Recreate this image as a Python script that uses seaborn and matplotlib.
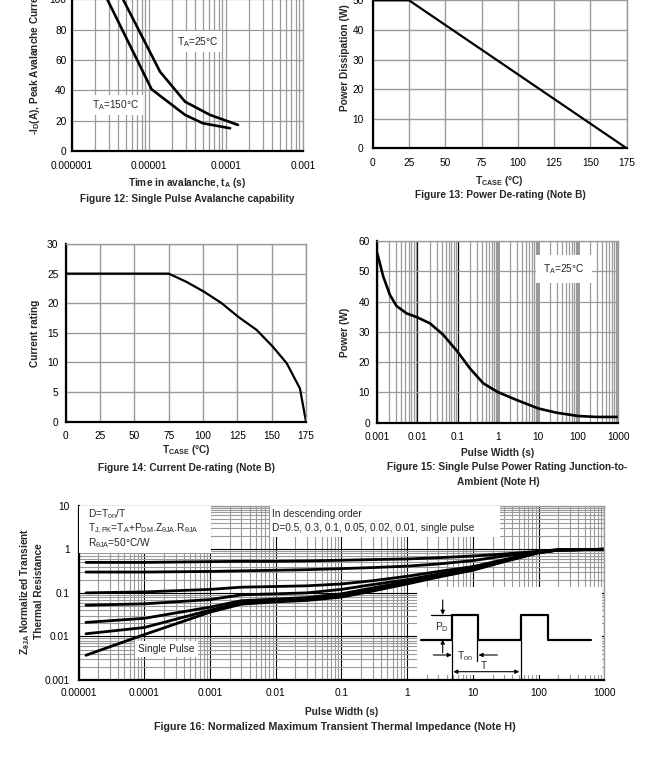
import numpy as np
import pandas as pd
import matplotlib
matplotlib.use("Agg")
import matplotlib.pyplot as plt
import seaborn as sns
from matplotlib.ticker import FuncFormatter, LogLocator, MultipleLocator
from matplotlib.patches import Rectangle

sns.set_theme(style="white")
plt.rcParams["font.family"] = ["Liberation Sans", "DejaVu Sans"]
plt.rcParams["mathtext.default"] = "regular"
plt.rcParams["font.size"] = 7.3

# ---- data ----
# Figure 12: single pulse avalanche capability
aval_t_25 = [3.0e-6, 4.6e-6, 1.39e-5, 2.94e-5, 6.2e-5, 1.43e-4]
aval_i_25 = [120, 100, 52.3, 32.5, 23.8, 17.2]
aval_t_150 = [1.85e-6, 2.87e-6, 1.08e-5, 2.94e-5, 5.0e-5, 1.13e-4]
aval_i_150 = [120, 100, 40.7, 23.8, 18.3, 15.0]

# Figure 13: power de-rating
pd_tcase = [0, 25, 175]
pd_power = [50, 50, 0]

# Figure 14: current de-rating
cr_tcase = [0, 75, 88, 100.7, 113.6, 125.7, 139, 150.7, 161, 170.6, 175]
cr_current = [25, 25, 23.6, 21.95, 20.0, 17.7, 15.5, 12.7, 9.85, 5.6, 0]

# Figure 15: single pulse power rating
pw_width = [0.001, 0.00141, 0.00206, 0.00303, 0.00537, 0.0099, 0.0205, 0.044,
            0.1, 0.203, 0.436, 0.97, 2.94, 10.2, 29, 101, 290, 1000]
pw_power = [55.9, 48.2, 42.2, 38.5, 36.1, 34.8, 32.8, 29.0,
            23.4, 17.9, 13.0, 10.2, 7.5, 4.7, 3.3, 2.2, 1.9, 1.9]

# Figure 16: normalized transient thermal impedance
zth_width = [1.3e-5, 1e-4, 1e-3, 3e-3, 1e-2, 3e-2, 0.1, 0.3, 1, 3, 10, 30, 100, 200, 1000]
zth_d050 = [0.5, 0.5, 0.52, 0.53, 0.53, 0.54, 0.56, 0.58, 0.6, 0.64, 0.7, 0.78, 0.9, 0.98, 1.0]
zth_d030 = [0.3, 0.3, 0.31, 0.32, 0.33, 0.34, 0.36, 0.38, 0.41, 0.46, 0.55, 0.7, 0.88, 0.97, 1.0]
zth_d010 = [0.1, 0.105, 0.12, 0.135, 0.14, 0.145, 0.16, 0.19, 0.24, 0.31, 0.4, 0.58, 0.86, 0.96, 1.0]
zth_d005 = [0.052, 0.056, 0.07, 0.09, 0.095, 0.1, 0.12, 0.155, 0.2, 0.27, 0.37, 0.55, 0.85, 0.96, 1.0]
zth_d002 = [0.021, 0.026, 0.047, 0.066, 0.072, 0.078, 0.095, 0.13, 0.18, 0.25, 0.35, 0.54, 0.84, 0.96, 1.0]
zth_d001 = [0.0115, 0.016, 0.04, 0.06, 0.066, 0.072, 0.088, 0.12, 0.17, 0.24, 0.34, 0.53, 0.84, 0.96, 1.0]
zth_single = [0.0037, 0.011, 0.036, 0.055, 0.062, 0.067, 0.08, 0.11, 0.16, 0.23, 0.33, 0.52, 0.83, 0.96, 1.0]
duty_labels = ["0.5", "0.3", "0.1", "0.05", "0.02", "0.01", "single pulse"]

# pulse sketch in the inset (schematic units)
pulse_u = [3.7, 34.7, 34.7, 61.3, 61.3, 103.7, 103.7, 130.7, 130.7, 173.7]
pulse_v = [40.5, 40.5, 65.3, 65.3, 40.5, 40.5, 65.3, 65.3, 40.5, 40.5]

W, H = 671, 770
GRID = "#9a9a9a"
fig = plt.figure(figsize=(W / 100, H / 100), dpi=100)


def add_axes(x0, x1, ytop, ybot):
    return fig.add_axes([x0 / W, 1 - ybot / H, (x1 - x0) / W, (ybot - ytop) / H])


def ftext(x, y, s, **kw):
    kw.setdefault("ha", "center")
    kw.setdefault("va", "center")
    fig.text(x / W, 1 - y / H, s, **kw)


def plain(v, pos):
    return f"{v:.8f}".rstrip("0").rstrip(".")


def style(ax, ypad=5):
    ax.set_facecolor("white")
    ax.set_axisbelow(True)
    for s in ["top", "right"]:
        ax.spines[s].set_color(GRID)
        ax.spines[s].set_linewidth(1.0)
    for s in ["left", "bottom"]:
        ax.spines[s].set_color("black")
        ax.spines[s].set_linewidth(1.6)
    ax.tick_params(which="both", length=0, labelsize=7.3, colors="black")
    ax.tick_params(axis="x", pad=7)
    ax.tick_params(axis="y", pad=ypad)
    ax.set_xlabel("")
    ax.set_ylabel("")


def log_x(ax):
    ax.set_xscale("log")
    ax.xaxis.set_major_locator(LogLocator(base=10, numticks=30))
    ax.xaxis.set_minor_locator(LogLocator(base=10, subs=np.arange(2, 10), numticks=300))
    ax.xaxis.set_major_formatter(FuncFormatter(plain))


bold = dict(fontweight="bold", fontsize=7.3)

# ---------------- Figure 12 ----------------
ax12 = add_axes(72, 303, -31, 151)
sns.lineplot(x=aval_t_25, y=aval_i_25, ax=ax12, color="black", lw=1.9, sort=False, estimator=None)
sns.lineplot(x=aval_t_150, y=aval_i_150, ax=ax12, color="black", lw=1.9, sort=False, estimator=None)
log_x(ax12)
ax12.set_xlim(1e-6, 1e-3)
ax12.set_ylim(0, 120)
ax12.yaxis.set_major_locator(MultipleLocator(20))
style(ax12, ypad=4)
ax12.grid(True, which="both", axis="x", color=GRID, lw=0.9)
ax12.grid(True, which="major", axis="y", color=GRID, lw=0.9)
ax12.text(2.31e-5, 72, "T$_A$=25°C", fontsize=7.3, va="center", zorder=4,
          bbox=dict(facecolor="white", edgecolor="none", pad=2.5))
ax12.text(1.82e-6, 30.4, "T$_A$=150°C", fontsize=7.3, va="center", zorder=4,
          bbox=dict(facecolor="white", edgecolor="none", pad=2.5))
ftext(35, 60, "-I$_D$(A), Peak Avalanche Current", rotation=90, **bold)
ftext(187, 183, "Time in avalanche, t$_A$ (s)", **bold)
ftext(187, 198.5, "Figure 12: Single Pulse Avalanche capability", **bold)

# ---------------- Figure 13 ----------------
ax13 = add_axes(372.7, 626.7, -29.3, 148.3)
sns.lineplot(x=pd_tcase, y=pd_power, ax=ax13, color="black", lw=1.6, sort=False, estimator=None)
ax13.set_xlim(0, 175)
ax13.set_ylim(0, 60)
ax13.xaxis.set_major_locator(MultipleLocator(25))
ax13.yaxis.set_major_locator(MultipleLocator(10))
style(ax13, ypad=6.5)
ax13.grid(True, which="major", color=GRID, lw=1.0)
ftext(345, 58, "Power Dissipation (W)", rotation=90, **bold)
ftext(499, 181, "T$_{CASE}$ (°C)", **bold)
ftext(500, 195, "Figure 13: Power De-rating (Note B)", **bold)

# ---------------- Figure 14 ----------------
ax14 = add_axes(65.7, 306, 244, 421.7)
sns.lineplot(x=cr_tcase, y=cr_current, ax=ax14, color="black", lw=1.6, sort=False, estimator=None)
ax14.set_xlim(0, 175)
ax14.set_ylim(0, 30)
ax14.xaxis.set_major_locator(MultipleLocator(25))
ax14.yaxis.set_major_locator(MultipleLocator(5))
style(ax14, ypad=5.3)
ax14.grid(True, which="major", color=GRID, lw=1.0)
ftext(35, 333, "Current rating", rotation=90, **bold)
ftext(186, 450, "T$_{CASE}$ (°C)", **bold)
ftext(186, 468.3, "Figure 14: Current De-rating (Note B)", **bold)

# ---------------- Figure 15 ----------------
ax15 = add_axes(377.3, 618.3, 241, 422.7)
sns.lineplot(x=pw_width, y=pw_power, ax=ax15, color="black", lw=1.9, sort=False, estimator=None)
log_x(ax15)
ax15.set_xlim(1e-3, 1e3)
ax15.set_ylim(0, 60)
ax15.yaxis.set_major_locator(MultipleLocator(10))
style(ax15, ypad=5.3)
ax15.grid(True, which="minor", axis="x", color=GRID, lw=0.9)
ax15.grid(True, which="major", axis="x", color="black", lw=0.9)
ax15.grid(True, which="major", axis="y", color=GRID, lw=0.9)
ax15.text(13.6, 50.7, "T$_A$=25°C", fontsize=7.3, va="center", zorder=4,
          bbox=dict(facecolor="white", edgecolor="none", boxstyle="square,pad=0.7"))
ftext(345, 332, "Power (W)", rotation=90, **bold)
ftext(498, 453.3, "Pulse Width (s)", **bold)
ftext(507, 467, "Figure 15: Single Pulse Power Rating Junction-to-", **bold)
ftext(498.5, 481.7, "Ambient (Note H)", **bold)

# ---------------- Figure 16 ----------------
ax16 = add_axes(78.5, 604.3, 505.7, 680)
series = [zth_d050, zth_d030, zth_d010, zth_d005, zth_d002, zth_d001, zth_single]
zth = pd.DataFrame({
    "width": np.tile(zth_width, len(series)),
    "z": np.concatenate(series),
    "duty": np.repeat(duty_labels, len(zth_width)),
})
sns.lineplot(data=zth, x="width", y="z", units="duty", estimator=None, sort=False,
             color="black", lw=2.0, ax=ax16, legend=False)
log_x(ax16)
ax16.set_yscale("log")
ax16.yaxis.set_major_locator(LogLocator(base=10, numticks=30))
ax16.yaxis.set_minor_locator(LogLocator(base=10, subs=np.arange(2, 10), numticks=300))
ax16.yaxis.set_major_formatter(FuncFormatter(plain))
ax16.set_xlim(1e-5, 1e3)
ax16.set_ylim(1e-3, 10)
style(ax16, ypad=6.5)
ax16.tick_params(axis="x", pad=6)
ax16.grid(True, which="minor", color=GRID, lw=0.8)
ax16.grid(True, which="major", color="black", lw=0.8)

ax16.add_patch(Rectangle((0, 0.729), 0.252, 0.271, transform=ax16.transAxes,
                         facecolor="white", edgecolor="none", zorder=3))
ax16.add_patch(Rectangle((0.364, 0.822), 0.438, 0.178, transform=ax16.transAxes,
                         facecolor="white", edgecolor="none", zorder=3))
box_lines = ["D=T$_{on}$/T", "T$_{J,PK}$=T$_A$+P$_{DM}$.Z$_{θJA}$.R$_{θJA}$", "R$_{θJA}$=50°C/W"]
for yy, s in zip([0.952, 0.865, 0.785], box_lines):
    ax16.text(0.0175, yy, s, transform=ax16.transAxes, fontsize=7.3, va="center", zorder=4)
ax16.text(0.3686, 0.951, "In descending order", transform=ax16.transAxes,
          fontsize=7.3, va="center", zorder=4)
ax16.text(0.3686, 0.874, "D=" + ", ".join(duty_labels), transform=ax16.transAxes,
          fontsize=7.3, va="center", zorder=4)
ax16.text(0.1677, 0.178, "Single Pulse", transform=ax16.transAxes, fontsize=7.3,
          ha="center", va="center", zorder=4,
          bbox=dict(facecolor="white", edgecolor="none", pad=2.5))

# pulse diagram inset
ins = ax16.inset_axes([0.6438, 5 / 174.3, 185 / 525.8, 88 / 174.3])
ins.set_xlim(0, 185)
ins.set_ylim(5, 93)
ins.set_facecolor("white")
for s in ins.spines.values():
    s.set_visible(False)
ins.set_xticks([])
ins.set_yticks([])
ins.plot(pulse_u, pulse_v, color="black", lw=1.6)
ins.plot([34.7, 34.7], [40.5, 0], color="black", lw=0.9, clip_on=False)
ins.plot([103.7, 103.7], [40.5, 0], color="black", lw=0.9, clip_on=False)
ins.plot([13.7, 34.7], [65.3, 65.3], color="black", lw=0.9)
ins.plot([60.3, 60.3], [40.5, 19], color="black", lw=0.9)
arrow = dict(arrowstyle="-|>", color="black", lw=0.8, mutation_scale=6, shrinkA=0, shrinkB=0)
ins.annotate("", xy=(25.7, 65.3), xytext=(25.7, 80), arrowprops=arrow)
ins.annotate("", xy=(25.7, 40.5), xytext=(25.7, 27), arrowprops=arrow)
ins.annotate("", xy=(34.7, 25), xytext=(16.3, 25), arrowprops=arrow)
ins.annotate("", xy=(61.5, 25), xytext=(80.3, 25), arrowprops=arrow)
ins.annotate("", xy=(36.3, 8.3), xytext=(102.3, 8.3), annotation_clip=False,
             arrowprops=dict(arrowstyle="<|-|>", color="black", lw=0.8, mutation_scale=6,
                             shrinkA=0, shrinkB=0))
ins.text(24.7, 52.5, "P$_D$", fontsize=7.3, ha="center", va="center")
ins.text(48, 23.5, "T$_{on}$", fontsize=7.3, ha="center", va="center")
ins.text(67, 14, "T", fontsize=7.3, ha="center", va="center")

ftext(31.5, 591, "Z$_{θJA}$ Normalized Transient\nThermal Resistance", rotation=90,
      multialignment="center", linespacing=1.25, **bold)
ftext(341.4, 711.7, "Pulse Width (s)", **bold)
ftext(335, 726.7, "Figure 16: Normalized Maximum Transient Thermal Impedance (Note H)",
      fontweight="bold", fontsize=7.7)

# decade lines at 1, 10, 100 look like grey bands in figure 15
fig.canvas.draw()
for tick in ax15.xaxis.get_major_ticks():
    if tick.get_loc() >= 0.5:
        tick.gridline.set_color(GRID)
        tick.gridline.set_linewidth(2.2)

fig.savefig("out.png", dpi=100, facecolor="white")
